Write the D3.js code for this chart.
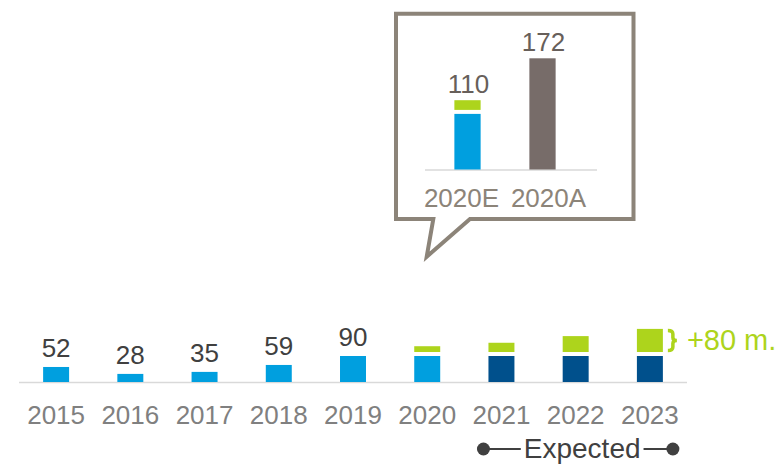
<!DOCTYPE html>
<html>
<head>
<meta charset="utf-8">
<script src="https://cdn.jsdelivr.net/npm/d3@7"></script>
<style>
  body { margin: 0; background: #fff; }
  text { font-family: "Liberation Sans", Arial, sans-serif; }
</style>
</head>
<body>
<div id="chart"></div>
<script>
// main chart data
var years = ["2015", "2016", "2017", "2018", "2019", "2020", "2021", "2022", "2023"];
var baseValues = [52, 28, 35, 59, 90, 90, 90, 90, 90];
var extraValues = [0, 0, 0, 0, 0, 20, 32, 55, 80];
var valueLabels = ["52", "28", "35", "59", "90", "", "", "", ""];
var expectedYears = ["2021", "2022", "2023"];
var extraLabel = "+80 m.";

// callout data
var insetCats = ["2020E", "2020A"];
var insetBase = [86, 172];
var insetExtra = [15, 0];
var insetLabels = ["110", "172"];

var w = 780, h = 465;
var lightBlue = "#009fdf", darkBlue = "#00508c", green = "#add41c";
var gap = 4;

var svg = d3.select("#chart").append("svg")
    .attr("width", w)
    .attr("height", h);

// scales for main chart
var x = d3.scaleBand()
    .domain(years)
    .range([19, 687])
    .paddingInner(0.65)
    .paddingOuter(0.325);

var y = d3.scaleLinear()
    .domain([0, 180])
    .range([382, 330]);

// axis line
svg.append("line")
    .attr("x1", x.range()[0]).attr("x2", x.range()[1])
    .attr("y1", y(0) + 0.5).attr("y2", y(0) + 0.5)
    .attr("stroke", "#d9d9d9")
    .attr("stroke-width", 1.5);

// base bars
svg.selectAll("rect.base")
    .data(years)
    .enter()
    .append("rect")
    .attr("class", "base")
    .attr("x", function (d) { return x(d); })
    .attr("width", x.bandwidth())
    .attr("y", function (d, i) { return y(baseValues[i]); })
    .attr("height", function (d, i) { return y(0) - y(baseValues[i]); })
    .attr("fill", function (d) { return expectedYears.indexOf(d) >= 0 ? darkBlue : lightBlue; });

// extra (green) segments
svg.selectAll("rect.extra")
    .data(years.filter(function (d, i) { return extraValues[i] > 0; }))
    .enter()
    .append("rect")
    .attr("class", "extra")
    .attr("x", function (d) { return x(d); })
    .attr("width", x.bandwidth())
    .attr("y", function (d) {
        var i = years.indexOf(d);
        return y(baseValues[i] + extraValues[i]) - gap;
    })
    .attr("height", function (d) {
        var i = years.indexOf(d);
        return y(baseValues[i]) - y(baseValues[i] + extraValues[i]);
    })
    .attr("fill", green);

// value labels
svg.selectAll("text.val")
    .data(years)
    .enter()
    .append("text")
    .attr("class", "val")
    .attr("x", function (d) { return x(d) + x.bandwidth() / 2; })
    .attr("y", function (d, i) { return y(baseValues[i]) - 10; })
    .attr("text-anchor", "middle")
    .attr("font-size", 26)
    .attr("fill", "#404040")
    .text(function (d, i) { return valueLabels[i]; });

// year labels
svg.selectAll("text.year")
    .data(years)
    .enter()
    .append("text")
    .attr("class", "year")
    .attr("x", function (d) { return x(d) + x.bandwidth() / 2; })
    .attr("y", 424)
    .attr("text-anchor", "middle")
    .attr("font-size", 26)
    .attr("fill", "#808080")
    .text(function (d) { return d; });

// brace + label on last bar
var last = years.length - 1;
var bTop = y(baseValues[last] + extraValues[last]) - gap;
var bBot = y(baseValues[last]) - gap;
var bMid = (bTop + bBot) / 2;
var bx = x(years[last]) + x.bandwidth() + 5;
svg.append("path")
    .attr("d", "M" + bx + "," + (bTop + 1.5) +
        " Q" + (bx + 5) + "," + (bTop + 1.5) + " " + (bx + 5) + "," + (bTop + 5) +
        " L" + (bx + 5) + "," + (bMid - 3) +
        " Q" + (bx + 5) + "," + bMid + " " + (bx + 9) + "," + bMid +
        " Q" + (bx + 5) + "," + bMid + " " + (bx + 5) + "," + (bMid + 3) +
        " L" + (bx + 5) + "," + (bBot - 5) +
        " Q" + (bx + 5) + "," + (bBot - 1.5) + " " + bx + "," + (bBot - 1.5))
    .attr("fill", "none")
    .attr("stroke", green)
    .attr("stroke-width", 3.5);

svg.append("text")
    .attr("x", bx + 19)
    .attr("y", bMid + 10)
    .attr("font-size", 29)
    .attr("fill", green)
    .text(extraLabel);

// "Expected" bracket
var eLeft = x(expectedYears[0]) + x.bandwidth() / 2 - 18;
var eRight = x(expectedYears[expectedYears.length - 1]) + x.bandwidth() / 2 + 23;
var eY = 449;
svg.append("line")
    .attr("x1", eLeft).attr("x2", eRight)
    .attr("y1", eY).attr("y2", eY)
    .attr("stroke", "#404040")
    .attr("stroke-width", 2);
svg.selectAll("circle.dot")
    .data([eLeft, eRight])
    .enter()
    .append("circle")
    .attr("cx", function (d) { return d; })
    .attr("cy", eY)
    .attr("r", 6.5)
    .attr("fill", "#404040");
var eText = svg.append("text")
    .attr("x", (eLeft + eRight) / 2 + 4)
    .attr("y", 458)
    .attr("text-anchor", "middle")
    .attr("font-size", 28)
    .attr("fill", "#404040")
    .text("Expected");
var bb = eText.node().getBBox();
svg.insert("rect", "text:last-of-type")
    .attr("x", bb.x - 3)
    .attr("y", eY - 3)
    .attr("width", bb.width + 6)
    .attr("height", 6)
    .attr("fill", "#fff");

// callout box
var boxColor = "#8c8479";
svg.append("path")
    .attr("d", "M396,13.7 L633.5,13.7 L633.5,219 L470,219 L426.7,256.7 L433.3,219 L396,219 Z")
    .attr("fill", "#fff")
    .attr("stroke", boxColor)
    .attr("stroke-width", 4)
    .attr("stroke-linejoin", "miter");

var xi = d3.scaleBand()
    .domain(insetCats)
    .range([430, 580])
    .paddingInner(0.65)
    .paddingOuter(0.325);

var yi = d3.scaleLinear()
    .domain([0, 172])
    .range([169.5, 58.3]);

svg.append("line")
    .attr("x1", 425).attr("x2", 597)
    .attr("y1", yi(0) + 0.5).attr("y2", yi(0) + 0.5)
    .attr("stroke", "#d9d9d9")
    .attr("stroke-width", 1.5);

svg.selectAll("rect.ibase")
    .data(insetCats)
    .enter()
    .append("rect")
    .attr("class", "ibase")
    .attr("x", function (d) { return xi(d); })
    .attr("width", xi.bandwidth())
    .attr("y", function (d, i) { return yi(insetBase[i]); })
    .attr("height", function (d, i) { return yi(0) - yi(insetBase[i]); })
    .attr("fill", function (d, i) { return i === 0 ? lightBlue : "#776c69"; });

svg.selectAll("rect.iextra")
    .data(insetCats.filter(function (d, i) { return insetExtra[i] > 0; }))
    .enter()
    .append("rect")
    .attr("class", "iextra")
    .attr("x", function (d) { return xi(d); })
    .attr("width", xi.bandwidth())
    .attr("y", function (d) {
        var i = insetCats.indexOf(d);
        return yi(insetBase[i] + insetExtra[i]) - gap;
    })
    .attr("height", function (d) {
        var i = insetCats.indexOf(d);
        return yi(insetBase[i]) - yi(insetBase[i] + insetExtra[i]);
    })
    .attr("fill", green);

svg.selectAll("text.ival")
    .data(insetCats)
    .enter()
    .append("text")
    .attr("x", function (d) { return xi(d) + xi.bandwidth() / 2 + 1; })
    .attr("y", function (d, i) {
        return yi(insetBase[i] + insetExtra[i]) - (insetExtra[i] > 0 ? gap : 0) - 7;
    })
    .attr("text-anchor", "middle")
    .attr("font-size", 26)
    .attr("fill", "#675f5a")
    .text(function (d, i) { return insetLabels[i]; });

svg.selectAll("text.icat")
    .data(insetCats)
    .enter()
    .append("text")
    .attr("x", function (d, i) { return xi(d) + xi.bandwidth() / 2 + (i === 0 ? -6 : 6); })
    .attr("y", 206.5)
    .attr("text-anchor", "middle")
    .attr("font-size", 26)
    .attr("fill", boxColor)
    .text(function (d) { return d; });
</script>
</body>
</html>
